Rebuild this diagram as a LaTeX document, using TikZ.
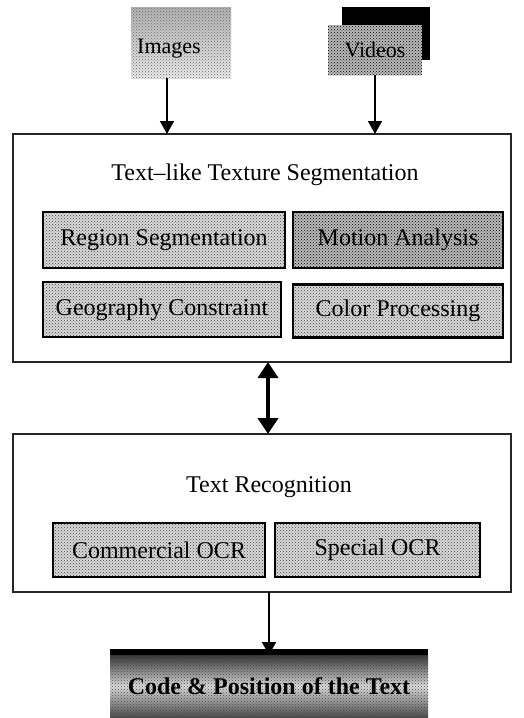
\documentclass[tikz,border=0pt]{standalone}
\usepackage{fontspec}
\setmainfont{Liberation Serif}
\usetikzlibrary{arrows.meta,patterns,calc}
\begin{document}
\begin{tikzpicture}[x=1pt,y=-1pt,
  every node/.style={inner sep=0pt,outer sep=0pt},
  txt/.style={font=\fontsize{24}{26}\selectfont},
  smalltxt/.style={font=\fontsize{22}{24}\selectfont},
  container/.style={draw=black!85,line width=1.5pt,rectangle},
  dots/.style={preaction={fill=gray!30},pattern=crosshatch dots,pattern color=black!75},
  darkdots/.style={preaction={fill=gray!55},pattern=crosshatch dots,pattern color=black},
  sub/.style={draw=black,line width=2.6pt,dots,txt,rectangle},
  arr/.style={draw=black,line width=1.5pt,-{Triangle[width=14pt,length=13pt]}},
  dblarr/.style={draw=black,line width=4pt,{Triangle[width=20pt,length=16pt]}-{Triangle[width=20pt,length=16pt]}}
]
\useasboundingbox (0,0) rectangle (524,718);
% inputs
\node[rectangle,minimum width=100pt,minimum height=71pt,
      preaction={top color=gray!60,bottom color=gray!15},
      pattern=crosshatch dots,pattern color=black!60] (img) at (181,42.5) {};
\node[smalltxt] (imgt) at (169,49) {Images};
\fill[black] (342,7) rectangle (430,60);
\node[rectangle,minimum width=94pt,minimum height=50pt,darkdots,smalltxt] (vid) at (375,50) {Videos};
% segmentation container
\node[container,minimum width=498pt,minimum height=228pt] (seg) at (262,248) {};
\node[txt] (segt) at (265,175) {Text–like Texture Segmentation};
\node[sub,minimum width=242pt,minimum height=56pt] (reg) at (164,240) {Region Segmentation};
\node[sub,darkdots,minimum width=210pt,minimum height=56pt] (mot) at (398,240) {Motion Analysis};
\node[sub,minimum width=238pt,minimum height=55pt] (geo) at (162,309.5) {Geography Constraint};
\node[sub,minimum width=210pt,minimum height=53pt] (col) at (398,311) {Color Processing};
% recognition container
\node[container,minimum width=498pt,minimum height=158pt] (rec) at (262,513) {};
\node[txt] (rect) at (269,487) {Text Recognition};
\node[sub,minimum width=212pt,minimum height=54pt] (com) at (159,550) {Commercial OCR};
\node[sub,minimum width=205pt,minimum height=54pt] (spe) at (377.5,550) {Special OCR};
% output
\node[rectangle,minimum width=318pt,minimum height=62pt,
      preaction={top color=black!80,bottom color=black!70,middle color=gray!25},
      pattern=crosshatch dots,pattern color=black!70,
      font=\fontsize{24}{26}\selectfont\bfseries] (out) at (269,686) {Code \& Position of the Text};
\fill[black] (out.north west) rectangle ([yshift=6pt]out.north east);
% connectors
\draw[arr] ([xshift=-14pt]img.south) -- ([xshift=-14pt]img.south |- seg.north);
\draw[arr] (vid.south) -- (vid.south |- seg.north);
\draw[dblarr] ([xshift=6pt]seg.south) -- ([xshift=6pt]seg.south |- rec.north);
\draw[arr] ([xshift=7pt]rec.south) -- (out.north);
\end{tikzpicture}
\end{document}
